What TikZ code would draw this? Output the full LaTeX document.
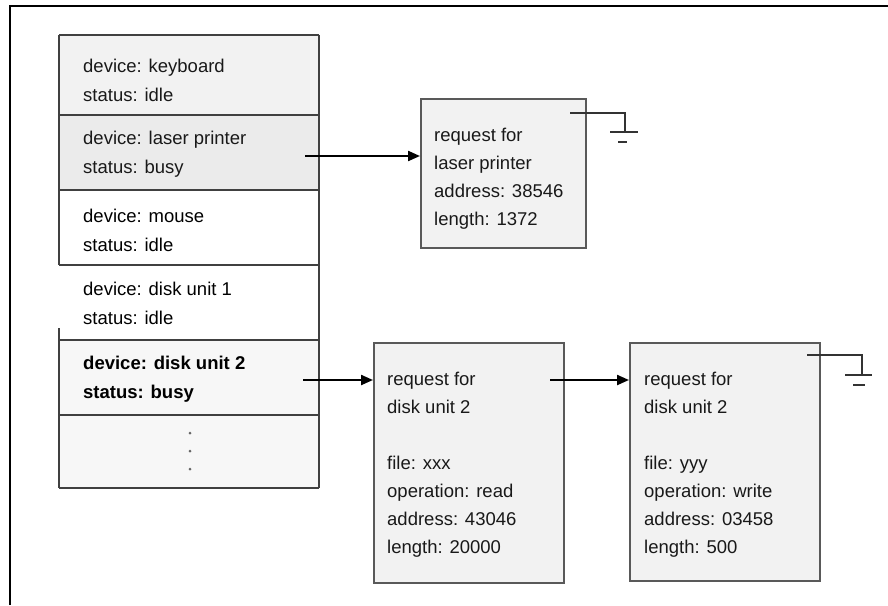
\documentclass[tikz,border=0pt]{standalone}
\usepackage{fontspec}
\setmainfont{Liberation Sans}
\usetikzlibrary{arrows.meta}
\begin{document}
\begin{tikzpicture}[x=1pt,y=-1pt,
  tline/.style={draw=black!75, line width=2pt},
  rowbox/.style={minimum width=259pt, inner sep=0pt, anchor=north west, draw=none},
  scan/.style={fill=black!5},
  txt/.style={anchor=west, align=left, inner sep=0pt, font=\fontsize{18.5}{29}\selectfont, text=black!90},
  newtxt/.style={txt, text=black},
  reqtxt/.style={txt, font=\fontsize{18.5}{28}\selectfont},
  reqbox/.style={draw=black!65, line width=2pt, fill=black!5, anchor=north west, inner sep=0pt},
  conn/.style={line width=2.2pt, -{Triangle[length=12pt,width=10pt]}},
  gnd/.style={line width=2pt, draw=black!80},
]
\useasboundingbox (0,0) rectangle (888,605);
\fill[white] (0,0) rectangle (888,605);
\draw[line width=2pt] (10,605) -- (10,6) -- (888,6);

% device table rows
\node[rowbox, scan, minimum height=80pt] (kb) at (59,35) {};
\node[rowbox, fill=black!8, minimum height=75pt] (lp) at (59,115) {};
\node[rowbox, fill=white, minimum height=75pt] (ms) at (59,190) {};
\node[rowbox, fill=white, minimum height=75pt] (du1) at (59,265) {};
\node[rowbox, fill=black!3, minimum height=75pt] (du2) at (59,340) {};
\node[rowbox, fill=black!3, minimum height=73pt] (more) at (59,415) {};

% table lines
\draw[tline] (59,35) -- (319,35);
\draw[tline] (59,115) -- (319,115);
\draw[tline] (59,190) -- (319,190);
\draw[tline] (59,265) -- (319,265);
\draw[tline] (59,340) -- (319,340);
\draw[tline] (59,415) -- (319,415);
\draw[tline] (59,488) -- (319,488);
\draw[tline] (59,35) -- (59,265);
\draw[tline] (59,328) -- (59,488);
\draw[tline] (319,35) -- (319,488);

% row texts
\node[txt] (kbt) at (83,80.5) {device: keyboard\\status: idle};
\node[txt] (lpt) at (83,154) {device: laser printer\\status: busy};
\node[newtxt] (mst) at (83,230) {device: mouse\\status: idle};
\node[newtxt] (du1t) at (83,303) {device: disk unit 1\\status: idle};
\node[newtxt, font=\bfseries\fontsize{18.5}{29}\selectfont] (du2t) at (83,379) {device: disk unit 2\\status: busy};
\fill[black!60] (190,433) circle (1.5pt) (190,451) circle (1.5pt) (190,469) circle (1.5pt);

% request boxes
\node[reqbox, minimum width=165pt, minimum height=149pt] (rq1) at (420,98) {};
\node[reqtxt] (rq1t) at (434,179) {request for\\laser printer\\address: 38546\\length: 1372};
\node[reqbox, minimum width=190pt, minimum height=240pt] (rq2) at (373,342) {};
\node[reqtxt] (rq2t) at (387,465) {request for\\disk unit 2\\[28pt]file: xxx\\operation: read\\address: 43046\\length: 20000};
\node[reqbox, minimum width=190pt, minimum height=238pt] (rq3) at (629,342) {};
\node[reqtxt] (rq3t) at (644,465) {request for\\disk unit 2\\[28pt]file: yyy\\operation: write\\address: 03458\\length: 500};

% connectors
\coordinate (a1) at (305,156);
\coordinate (a2) at (303,380);
\coordinate (a3) at (550,380);
\draw[conn] (a1) -- (a1 -| rq1.west);
\draw[conn] (a2) -- (a2 -| rq2.west);
\draw[conn] (a3) -- (a3 -| rq3.west);

% ground symbols
\coordinate (g1a) at (570,113);
\coordinate (g1) at (625,132);
\draw[gnd] (g1a) -| (g1);
\draw[gnd] ([xshift=-15pt]g1) -- ([xshift=13pt]g1);
\draw[gnd] (618,142) -- (627,142);
\coordinate (g2a) at (807,355);
\coordinate (g2) at (862,375);
\draw[gnd] (g2a) -| (g2);
\draw[gnd] ([xshift=-17pt]g2) -- ([xshift=10pt]g2);
\draw[gnd] (853,385) -- (865,385);
\end{tikzpicture}
\end{document}
